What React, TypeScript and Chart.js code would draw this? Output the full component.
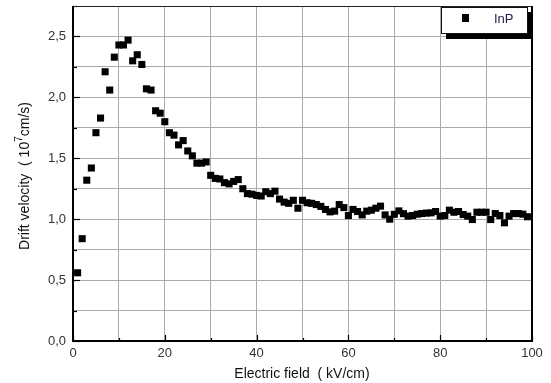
import React, { useEffect, useRef } from "react";
import { Chart, registerables } from "chart.js";

Chart.register(...registerables);

const fieldValues = [
  1, 2, 3, 4, 5, 6, 7, 8, 9, 10, 11, 12, 13, 14, 15, 16, 17, 18, 19, 20,
  21, 22, 23, 24, 25, 26, 27, 28, 29, 30, 31, 32, 33, 34, 35, 36, 37, 38, 39, 40,
  41, 42, 43, 44, 45, 46, 47, 48, 49, 50, 51, 52, 53, 54, 55, 56, 57, 58, 59, 60,
  61, 62, 63, 64, 65, 66, 67, 68, 69, 70, 71, 72, 73, 74, 75, 76, 77, 78, 79, 80,
  81, 82, 83, 84, 85, 86, 87, 88, 89, 90, 91, 92, 93, 94, 95, 96, 97, 98, 99,
];

const velocityValues = [
  0.56, 0.84, 1.32, 1.42, 1.71, 1.83, 2.21, 2.06, 2.33, 2.43,
  2.43, 2.47, 2.30, 2.35, 2.27, 2.07, 2.06, 1.89, 1.87, 1.80,
  1.71, 1.69, 1.61, 1.645, 1.56, 1.52, 1.46, 1.46, 1.47, 1.36,
  1.335, 1.33, 1.30, 1.29, 1.31, 1.325, 1.25, 1.21, 1.205, 1.195,
  1.19, 1.225, 1.21, 1.23, 1.165, 1.14, 1.13, 1.155, 1.09, 1.155,
  1.135, 1.13, 1.12, 1.105, 1.08, 1.06, 1.066, 1.12, 1.095, 1.03,
  1.08, 1.063, 1.035, 1.066, 1.074, 1.09, 1.107, 1.035, 1.0, 1.04,
  1.068, 1.045, 1.025, 1.03, 1.041, 1.046, 1.05, 1.052, 1.063, 1.025,
  1.03, 1.074, 1.057, 1.063, 1.038, 1.025, 0.997, 1.057, 1.057, 1.057,
  0.997, 1.046, 1.03, 0.97, 1.025, 1.046, 1.046, 1.041, 1.02,
];

const seriesName = "InP";
const xTitle = "Electric field  ( kV/cm)";
const yTitleMain = "Drift velocity  ( 10";
const yTitleSup = "7";
const yTitleEnd = "cm/s)";

const FONT = "'Liberation Sans', Arial, sans-serif";

const decorPlugin = {
  id: "decor",
  afterDraw(chart: any) {
    const ctx = chart.ctx;
    const a = chart.chartArea;
    const xs = chart.scales.x;
    const ys = chart.scales.y;
    ctx.save();
    // ticks inward
    ctx.strokeStyle = "#000";
    ctx.lineWidth = 1.2;
    for (let v = 0; v <= 100; v += 10) {
      const px = Math.round(xs.getPixelForValue(v)) + 0.5;
      const len = v % 20 === 0 ? 6 : 3;
      ctx.beginPath();
      ctx.moveTo(px, a.bottom);
      ctx.lineTo(px, a.bottom - len);
      ctx.stroke();
    }
    for (let k = 0; k <= 11; k++) {
      const v = k * 0.25;
      const py = Math.round(ys.getPixelForValue(v)) + 0.5;
      const len = k % 2 === 0 ? 7 : 4;
      ctx.beginPath();
      ctx.moveTo(a.left, py);
      ctx.lineTo(a.left + len, py);
      ctx.stroke();
    }
    // frame
    ctx.lineWidth = 1;
    ctx.strokeStyle = "#222";
    ctx.beginPath();
    ctx.moveTo(a.left, a.top + 0.5);
    ctx.lineTo(a.right, a.top + 0.5);
    ctx.stroke();
    ctx.lineWidth = 2;
    ctx.strokeStyle = "#000";
    ctx.beginPath();
    ctx.moveTo(a.left, a.top);
    ctx.lineTo(a.left, a.bottom);
    ctx.lineTo(a.right, a.bottom);
    ctx.lineTo(a.right, a.top);
    ctx.stroke();

    // legend with shadow
    const lx = 441, ly = 7, lw = 86, lh = 26;
    ctx.fillStyle = "#000";
    ctx.fillRect(lx + 5, ly + 5, lw, lh + 1);
    ctx.fillStyle = "#fff";
    ctx.fillRect(lx, ly, lw, lh);
    ctx.lineWidth = 1;
    ctx.strokeStyle = "#111";
    ctx.strokeRect(lx + 0.5, ly + 0.5, lw, lh);
    ctx.fillStyle = "#000";
    ctx.fillRect(462, 14, 7, 8);
    ctx.fillStyle = "#22224a";
    ctx.font = `13px ${FONT}`;
    ctx.textAlign = "left";
    ctx.textBaseline = "middle";
    ctx.fillText(seriesName, 494, 19);

    // axis titles
    ctx.fillStyle = "#111";
    ctx.font = `14px ${FONT}`;
    ctx.textAlign = "center";
    ctx.textBaseline = "middle";
    ctx.fillText(xTitle, 302, 374);

    ctx.translate(25, 176);
    ctx.rotate(-Math.PI / 2);
    ctx.font = `14px ${FONT}`;
    const w1 = ctx.measureText(yTitleMain).width;
    ctx.font = `10px ${FONT}`;
    const w2 = ctx.measureText(yTitleSup).width;
    ctx.font = `14px ${FONT}`;
    const w3 = ctx.measureText(yTitleEnd).width;
    const start = -(w1 + w2 + w3) / 2;
    ctx.textAlign = "left";
    ctx.fillText(yTitleMain, start, 0);
    ctx.font = `10px ${FONT}`;
    ctx.fillText(yTitleSup, start + w1, -6);
    ctx.font = `14px ${FONT}`;
    ctx.fillText(yTitleEnd, start + w1 + w2, 0);
    ctx.restore();
  },
};

export default function App() {
  const ref = useRef<HTMLCanvasElement | null>(null);
  useEffect(() => {
    if (!ref.current) return;
    const points = fieldValues.map((x, i) => ({ x, y: velocityValues[i] }));
    const chart = new Chart(ref.current, {
      type: "scatter",
      data: {
        datasets: [
          {
            label: seriesName,
            data: points,
            pointStyle: "rect",
            pointRadius: 5,
            pointHoverRadius: 5,
            backgroundColor: "#000",
            borderWidth: 0,
          },
        ],
      },
      options: {
        responsive: false,
        animation: false,
        layout: { padding: { left: 0, top: 6, right: 19, bottom: 0 } },
        plugins: { legend: { display: false }, tooltip: { enabled: false } },
        scales: {
          x: {
            type: "linear",
            min: 0,
            max: 100,
            afterFit: (s: any) => {
              s.height = 42;
              s.paddingLeft = 0;
              s.paddingRight = 0;
            },
            grid: { color: "#ababab", lineWidth: 1, drawTicks: false },
            border: { display: false },
            ticks: {
              stepSize: 10,
              padding: 5,
              color: "#333",
              font: { family: FONT, size: 13 },
              maxRotation: 0,
              callback: (v: any) => (Math.round(v) % 20 === 0 ? String(v) : ""),
            },
          },
          y: {
            type: "linear",
            min: 0,
            max: 2.75,
            afterFit: (s: any) => {
              s.width = 73;
              s.paddingTop = 0;
              s.paddingBottom = 0;
            },
            grid: { color: "#ababab", lineWidth: 1, drawTicks: false },
            border: { display: false },
            ticks: {
              stepSize: 0.25,
              padding: 7,
              color: "#333",
              font: { family: FONT, size: 13 },
              callback: (v: any) =>
                Math.round(v * 100) % 50 === 0 ? Number(v).toFixed(1).replace(".", ",") : "",
            },
          },
        },
      },
      plugins: [decorPlugin],
    });
    return () => chart.destroy();
  }, []);
  return (
    <div style={{ position: "absolute", left: 0, top: 0, width: 551, height: 383, background: "#fff" }}>
      <canvas ref={ref} width={551} height={383} />
    </div>
  );
}
